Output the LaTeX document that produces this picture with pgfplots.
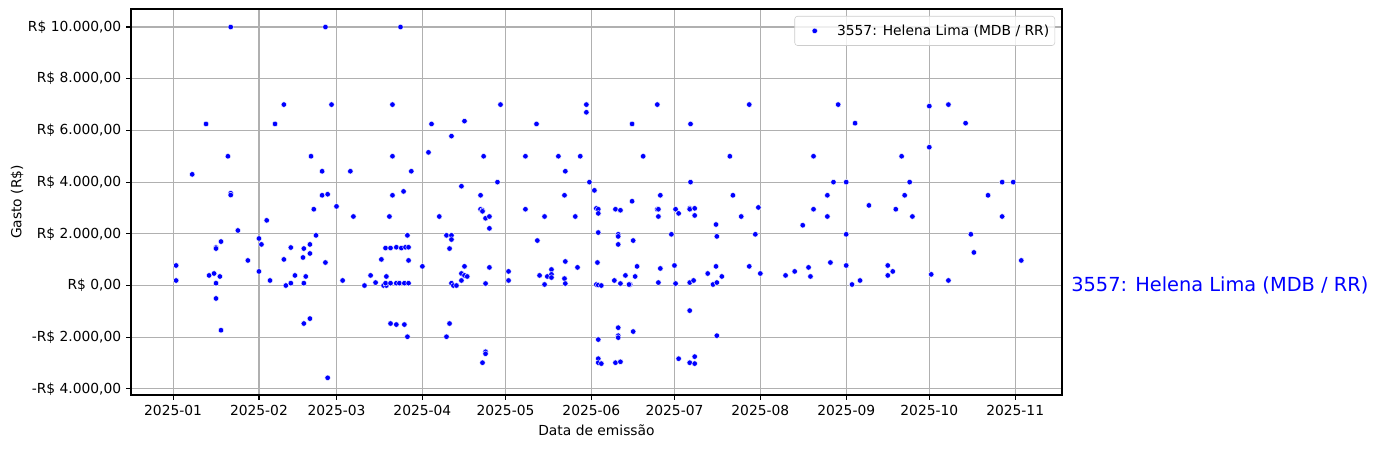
\documentclass[border=0pt]{standalone}
\usepackage{fontspec}
\setmainfont{DejaVu Sans}
\usepackage{pgfplots}
\usepackage{pgfplotstable}
\pgfplotsset{compat=1.18}
\definecolor{gridgray}{HTML}{B0B0B0}
\definecolor{legframe}{HTML}{CCCCCC}
\pgfplotstableread{
d v
1.1 775
1.1 194
6.9 4300
11.9 6250
13 390
14.8 465
15.5 1470
15.5 1430
15.5 90
15.5 -500
16.9 350
17.3 1700
17.3 -1730
19.8 5000
20.8 10000
20.8 3570
20.8 3500
23.4 2130
27 970
31 1820
31 545
31.9 1590
33.8 2520
35 195
36.8 6250
40 7000
40 1010
40.7 0
42.5 1470
42.5 90
44 390
47.2 1430
46.9 1085
47.9 350
47.2 90
47.2 -1470
49.4 1590
49.4 1240
49.4 -1280
49.8 5000
50.8 2950
51.6 1940
53.8 4420
53.8 3490
55 10000
55 890
55.8 3530
55.8 -3570
57.2 7000
59 3060
61.2 195
64 4420
65.1 2670
69.1 0
71.3 390
73.1 115
75.2 1010
76 0
77 0
77 350
76.7 1450
76.7 90
78.1 2670
78.5 1450
78.5 90
78.5 -1470
79.2 7000
79.2 5000
79.2 3490
80.6 1480
80.6 90
80.6 -1510
81.7 90
82.1 10000
82.4 1450
83.2 3640
83.5 -1510
83.9 1480
83.5 90
84.6 1940
84.6 -1980
85 1480
85 970
85 90
86 4420
90 740
92.2 5150
93.3 6250
96.1 2670
98.7 1940
98.7 -1980
99.8 1430
99.8 -1470
100.5 5780
100.5 1940
100.5 1780
100.5 90
101.2 0
102.3 0
104.1 3840
104.1 465
104.1 195
105.2 6360
105.2 740
105.2 390
106.2 350
111 3490
111 2950
111.7 2910
111.7 2870
111.7 -2985
112.1 5000
112.8 2600
112.8 77
112.8 -2560
112.8 -2640
114.2 2670
114.2 2210
114.2 700
117.1 4000
118.2 7000
121.1 545
121.1 195
127.2 5000
127.2 2950
131.2 6250
131.5 1740
132.3 390
134.1 2670
134.1 40
135.1 350
136.6 620
136.6 430
136.6 310
139.1 5000
141.3 3490
141.3 270
141.6 4420
141.6 930
141.6 77
145.2 2670
146 700
147 5000
149.2 7000
149.2 6700
150.3 4000
152.1 3680
152.8 2985
152.8 40
153.2 890
153.5 2950
153.5 2790
153.5 2050
153.5 20
153.5 -2090
153.5 -2830
153.5 -2985
154.6 0
154.6 -3020
159.3 195
159.7 2950
159.7 -2985
160.7 1980
160.7 1900
160.7 1590
160.7 -1630
160.7 -1940
160.7 -2015
161.5 2910
161.5 77
161.5 -2950
163.3 390
165 40
164.6 40
165.7 6250
165.7 3260
166.1 1740
166.1 -1780
166.8 350
167.5 740
169.7 5000
174.8 7000
174.8 2950
175.2 2950
175.2 2670
175.2 115
175.9 3490
175.9 660
179.9 1980
181 775
181.4 2950
181.4 77
182.5 2790
182.5 -2830
186.5 2985
186.5 2950
186.5 115
186.5 -970
186.5 -2985
186.8 6250
186.8 4000
187.9 195
188.3 2985
188.3 2710
188.3 -2750
188.3 -3020
193 465
194.9 40
196 2360
196 740
196.3 1900
196.3 115
196.3 -1940
198.1 350
201 5000
202.1 3490
205.1 2670
208 7000
208 740
210.2 1980
211.3 3020
212 465
221.1 390
224.4 545
227.3 2330
229.4 700
230.1 350
231.2 5000
231.2 2950
236.2 3490
236.2 2670
237.3 890
238.4 4000
240.1 7000
243 4000
243 1980
243 775
245.1 40
246.2 6280
248 195
251.2 3100
258 775
258 390
259.8 545
260.9 2950
263 5000
264.1 3490
265.9 4000
266.9 2670
273 6940
273 5350
273.7 430
279.9 7000
279.9 195
286.1 6280
288 1980
289.1 1280
294.2 3490
299.3 4000
299.3 2670
303.3 4000
306.2 970
}\datatable
\begin{document}
\begin{tikzpicture}
\begin{axis}[
  at={(0,0)}, anchor=south west,
  scale only axis, width=670.3bp, height=277.9bp,
  xmin=-15.2, xmax=320.9, ymin=-4236, ymax=10696,
  scaled x ticks=false, scaled y ticks=false,
  xtick={0,31,59,90,120,151,181,212,243,273,304},
  xticklabels={2025-01,2025-02,2025-03,2025-04,2025-05,2025-06,2025-07,2025-08,2025-09,2025-10,2025-11},
  ytick={-4000,-2000,0,2000,4000,6000,8000,10000},
  yticklabels={{-R\$ 4.000,00},{-R\$ 2.000,00},{R\$ 0,00},{R\$ 2.000,00},{R\$ 4.000,00},{R\$ 6.000,00},{R\$ 8.000,00},{R\$ 10.000,00}},
  grid=major, grid style={color=gridgray, line width=0.8bp},
  axis on top,
  tick align=outside, tick pos=left, major tick length=3.5bp,
  every tick/.style={black, line width=0.8bp},
  axis line style={line width=0.8bp},
  xlabel={Data de emissão}, ylabel={Gasto (R\$)},
  every axis y label/.style={at={([xshift=-82bp]rel axis cs:0,0.5)}, rotate=90, anchor=center},
  tick label style={font=\fontsize{10}{12}\selectfont},
  label style={font=\fontsize{10}{12}\selectfont},
  legend style={at={(rel axis cs:1,1)}, xshift=-5bp, yshift=-5bp, anchor=north east,
    draw=legframe, rounded corners=2bp, fill=white, fill opacity=0.8, text opacity=1,
    font=\fontsize{10}{12}\selectfont, inner ysep=4bp, inner xsep=2bp},
  legend cell align=left,
  legend image code/.code={\path (-0.23cm,0cm) (0.69cm,0cm); \draw[#1, only marks, fill opacity=1, draw opacity=1] plot coordinates {(0.2cm,0cm)};},
  clip=false,
]
\addplot[only marks, mark=*, mark size=2bp, mark options={fill=blue, draw=white, line width=0.3bp}] table[x=d,y=v]{\datatable};
\addlegendentry{3557: Helena Lima (MDB / RR)}
\node[anchor=west, inner sep=0pt, xshift=6.5bp, text=blue, font=\fontsize{14}{17}\selectfont] at (axis cs:320.9,0) {3557: Helena Lima (MDB / RR)};
\end{axis}
\pgfresetboundingbox
\path[use as bounding box] (-94.3bp,-38.2bp) rectangle (897.1bp,284.4bp);
\end{tikzpicture}
\end{document}
